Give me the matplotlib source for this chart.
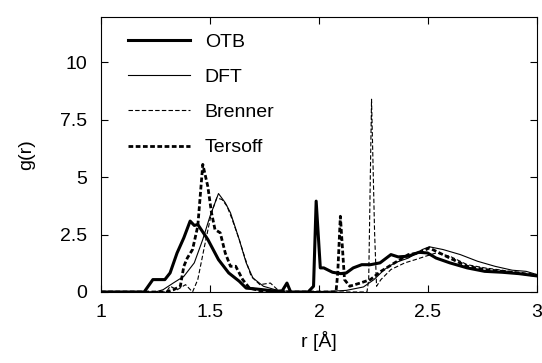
import matplotlib
matplotlib.use("Agg")
import matplotlib.pyplot as plt
from matplotlib.ticker import FuncFormatter

plt.rcParams.update({
    "font.family": ["Liberation Sans", "DejaVu Sans"],
    "font.size": 14,
    "xtick.direction": "in",
    "ytick.direction": "in",
    "xtick.top": True,
    "ytick.right": True,
})

# ── data ──────────────────────────────────────────────────────────────────
otb_r = [1.0, 1.198, 1.238, 1.293, 1.317, 1.349, 1.38, 1.409, 1.428, 1.444, 1.49,
         1.539, 1.586, 1.634, 1.666, 1.713, 1.78, 1.83, 1.853, 1.87, 1.95, 1.975,
         1.987, 2.006, 2.022, 2.062, 2.10, 2.125, 2.157, 2.196, 2.236, 2.28, 2.33,
         2.363, 2.41, 2.458, 2.498, 2.537, 2.60, 2.68, 2.76, 2.84, 2.917, 3.0]
otb_g = [0.0, 0.0, 0.54, 0.54, 0.83, 1.7, 2.36, 3.09, 2.9, 2.94, 2.29,
         1.41, 0.83, 0.47, 0.17, 0.13, 0.06, 0.03, 0.39, 0.0, 0.0, 0.25,
         3.96, 1.05, 1.05, 0.86, 0.8, 0.83, 1.05, 1.19, 1.19, 1.27, 1.63,
         1.53, 1.56, 1.73, 1.7, 1.48, 1.27, 1.05, 0.9, 0.86, 0.8, 0.7]

dft_r = [1.0, 1.25, 1.285, 1.333, 1.38, 1.428, 1.467, 1.5, 1.539, 1.57, 1.594,
         1.634, 1.666, 1.697, 1.745, 1.81, 1.887, 2.045, 2.125, 2.204, 2.252,
         2.30, 2.347, 2.41, 2.474, 2.506, 2.569, 2.648, 2.727, 2.807, 2.886,
         2.95, 3.0]
dft_g = [0.0, 0.0, 0.1, 0.4, 0.68, 1.27, 2.29, 3.3, 4.29, 3.89, 3.45,
         2.29, 1.27, 0.61, 0.25, 0.07, 0.0, 0.03, 0.07, 0.22, 0.54,
         0.98, 1.27, 1.48, 1.85, 1.97, 1.85, 1.63, 1.34, 1.12, 0.95,
         0.9, 0.76]

brenner_r = [1.0, 1.3, 1.317, 1.35, 1.388, 1.42, 1.444, 1.475, 1.507, 1.531, 1.555,
             1.578, 1.602, 1.634, 1.658, 1.689, 1.729, 1.777, 1.81, 1.887, 2.22,
             2.228, 2.241, 2.255, 2.264, 2.284, 2.33, 2.394, 2.442, 2.49, 2.537,
             2.6, 2.68, 2.76, 2.84, 2.917, 3.0]
brenner_g = [0.0, 0.0, 0.25, 0.1, 0.32, 0.0, 0.54, 2.0, 3.45, 4.1, 4.03,
             3.74, 3.16, 2.29, 1.56, 0.68, 0.32, 0.39, 0.1, 0.0, 0.0,
             0.54, 8.4, 2.58, 0.25, 0.54, 0.98, 1.27, 1.41, 1.56, 1.7,
             1.56, 1.19, 1.05, 0.95, 0.83, 0.76]

tersoff_r = [1.0, 1.3, 1.333, 1.364, 1.38, 1.396, 1.42, 1.444, 1.467, 1.49, 1.507,
             1.523, 1.547, 1.57, 1.594, 1.618, 1.65, 1.681, 1.729, 1.81, 2.078,
             2.086, 2.098, 2.109, 2.117, 2.141, 2.189, 2.236, 2.284, 2.347, 2.41,
             2.458, 2.506, 2.553, 2.6, 2.68, 2.76, 2.84, 2.917, 3.0]
tersoff_g = [0.0, 0.0, 0.1, 0.25, 1.12, 1.48, 1.85, 2.87, 5.56, 4.6, 3.45,
             2.72, 2.58, 1.7, 1.12, 1.12, 0.54, 0.17, 0.06, 0.0, 0.0,
             0.83, 3.3, 1.7, 0.54, 0.25, 0.39, 0.54, 0.9, 1.27, 1.63,
             1.7, 1.92, 1.7, 1.48, 1.12, 0.98, 0.9, 0.83, 0.71]

x_ticks = [1, 1.5, 2, 2.5, 3]
y_ticks = [0, 2.5, 5, 7.5, 10]

# ── plot ──────────────────────────────────────────────────────────────────
fig = plt.figure(figsize=(5.42, 3.63), dpi=100)
ax = fig.add_axes([0.1863, 0.1956, 0.8045, 0.7587])

ax.plot(otb_r, otb_g, color="black", lw=2.2, label="OTB")
ax.plot(dft_r, dft_g, color="black", lw=0.8, label="DFT")
ax.plot(brenner_r, brenner_g, color="black", lw=0.8, ls=(0, (4, 2)), label="Brenner")
ax.plot(tersoff_r, tersoff_g, color="black", lw=2.0, ls=(0, (1.7, 0.9)), label="Tersoff")

ax.set_xlim(1, 3)
ax.set_ylim(0, 12)
ax.set_xticks(x_ticks)
ax.set_yticks(y_ticks)
ax.xaxis.set_major_formatter(FuncFormatter(lambda v, p: f"{v:g}"))
ax.yaxis.set_major_formatter(FuncFormatter(lambda v, p: f"{v:g}"))
ax.tick_params(axis="x", length=5, width=0.8, pad=9)
ax.tick_params(axis="y", length=5, width=0.8, pad=10)
ax.set_xlabel("r [Å]", labelpad=7)
ax.set_ylabel("g(r)", labelpad=18)

ax.legend(loc="upper left", frameon=False, handlelength=3.2,
          handletextpad=0.75, labelspacing=0.9,
          bbox_to_anchor=(0.044, 0.967), borderaxespad=0.0)

fig.savefig("out.png", dpi=100)
